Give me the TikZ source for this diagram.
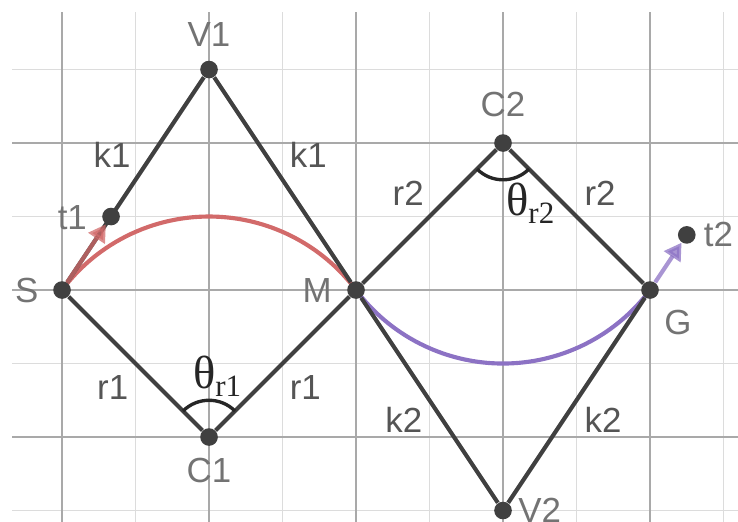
\documentclass[tikz,border=0pt]{standalone}
\usepackage{fontspec}
\setsansfont{Liberation Sans}
\newfontfamily\angfont{Liberation Serif}
\usepackage{xcolor}
\usetikzlibrary{arrows.meta,backgrounds}
\definecolor{edgec}{HTML}{404040}
\definecolor{ptlabc}{HTML}{737373}
\definecolor{seglabc}{HTML}{555555}
\definecolor{redc}{HTML}{D26A6A}
\definecolor{purc}{HTML}{8C72C4}
\definecolor{gridmin}{HTML}{DCDCDC}
\definecolor{gridmaj}{HTML}{A9A9A9}
\newcommand{\angname}[1]{θ\raisebox{-3pt}{\fontsize{12}{14}\selectfont #1}}
\tikzset{
  dot/.style={circle, fill=edgec, inner sep=0pt, minimum size=2.4mm},
  seg/.style={edgec, line width=1.6pt},
  ptlab/.style={text=ptlabc, inner sep=0pt},
  seglab/.style={text=seglabc, inner sep=0pt},
  anglab/.style={text=black!85, inner sep=0pt, font=\angfont\fontsize{18}{20}\selectfont},
  angarc/.style={black!85, line width=1.3pt},
  tanarrow/.style={line width=1.6pt, opacity=0.75, -{Triangle[length=2.3mm,width=2.6mm]}}
}
\begin{document}
\begin{tikzpicture}[font=\sffamily\fontsize{13.5}{16}\selectfont]
  \useasboundingbox (-0.844,-3.156) rectangle (9.197,3.946);
  \clip (-0.844,-3.156) rectangle (9.197,3.946);
  % grid
  \begin{scope}[on background layer]
    \foreach \x in {1,3,5,7,9}
       \draw[gridmin, line width=0.6pt] (\x,3.78) -- (\x,-3.3);
    \foreach \y in {3,1,-1,-3}
       \draw[gridmin, line width=0.6pt] (-0.68,\y) -- (9.3,\y);
    \foreach \x in {0,2,4,6,8}
       \draw[gridmaj, line width=0.6pt] (\x,3.78) -- (\x,-3.3);
    \foreach \y in {2,0,-2}
       \draw[gridmaj, line width=0.6pt] (-0.68,\y) -- (9.3,\y);
  \end{scope}
  % points
  \node[dot] (S)  at (0,0)        {};
  \node[dot] (V1) at (2,3)        {};
  \node[dot] (C1) at (2,-2)       {};
  \node[dot] (M)  at (4,0)        {};
  \node[dot] (C2) at (6,2)        {};
  \node[dot] (V2) at (6,-3)       {};
  \node[dot] (G)  at (8,0)        {};
  \node[dot] (t1) at (0.667,1)    {};
  \node[dot] (t2) at (8.5,0.75)   {};
  % turning arcs
  \begin{scope}[on background layer]
    \draw[redc, line width=1.6pt] (S.center) arc[start angle=143.13, end angle=36.87, radius=2.5];
    \draw[purc, line width=1.6pt] (M.center) arc[start angle=216.87, end angle=323.13, radius=2.5];
  \end{scope}
  % segments
  \draw[seg] (S) -- (V1) -- (M) -- (C1) -- (S);
  \draw[seg] (M) -- (C2) -- (G) -- (V2) -- (M);
  % tangents
  \draw[tanarrow, redc] (S) -- (t1);
  \draw[tanarrow, purc] (G) -- (t2);
  % angles
  \draw[angarc] ([shift={(45:0.5)}]C1.center) arc[start angle=45, end angle=135, radius=0.5];
  \draw[angarc] ([shift={(225:0.5)}]C2.center) arc[start angle=225, end angle=315, radius=0.5];
  \node[anglab] (th1) at (2.11,-1.17) {\angname{r1}};
  \node[anglab] (th2) at (6.37,1.18) {\angname{r2}};
  % point labels
  \foreach \n/\p/\t in {lS/{-0.48,0}/S, lV1/{2,3.47}/V1, lC1/{2,-2.45}/C1, lM/{3.47,0}/M,
                        lC2/{6,2.53}/C2, lV2/{6.5,-3}/V2, lG/{8.38,-0.44}/G,
                        lt1/{0.14,0.98}/t1, lt2/{8.93,0.76}/t2}
     \node[ptlab] (\n) at (\p) {\t};
  % segment labels
  \foreach \n/\p/\t in {lk1a/{0.68,1.84}/k1, lk1b/{3.35,1.84}/k1, lr1a/{0.69,-1.33}/r1, lr1b/{3.31,-1.33}/r1,
                        lr2a/{4.71,1.32}/r2, lr2b/{7.32,1.32}/r2, lk2a/{4.65,-1.77}/k2, lk2b/{7.36,-1.77}/k2}
     \node[seglab] (\n) at (\p) {\t};
\end{tikzpicture}
\end{document}
